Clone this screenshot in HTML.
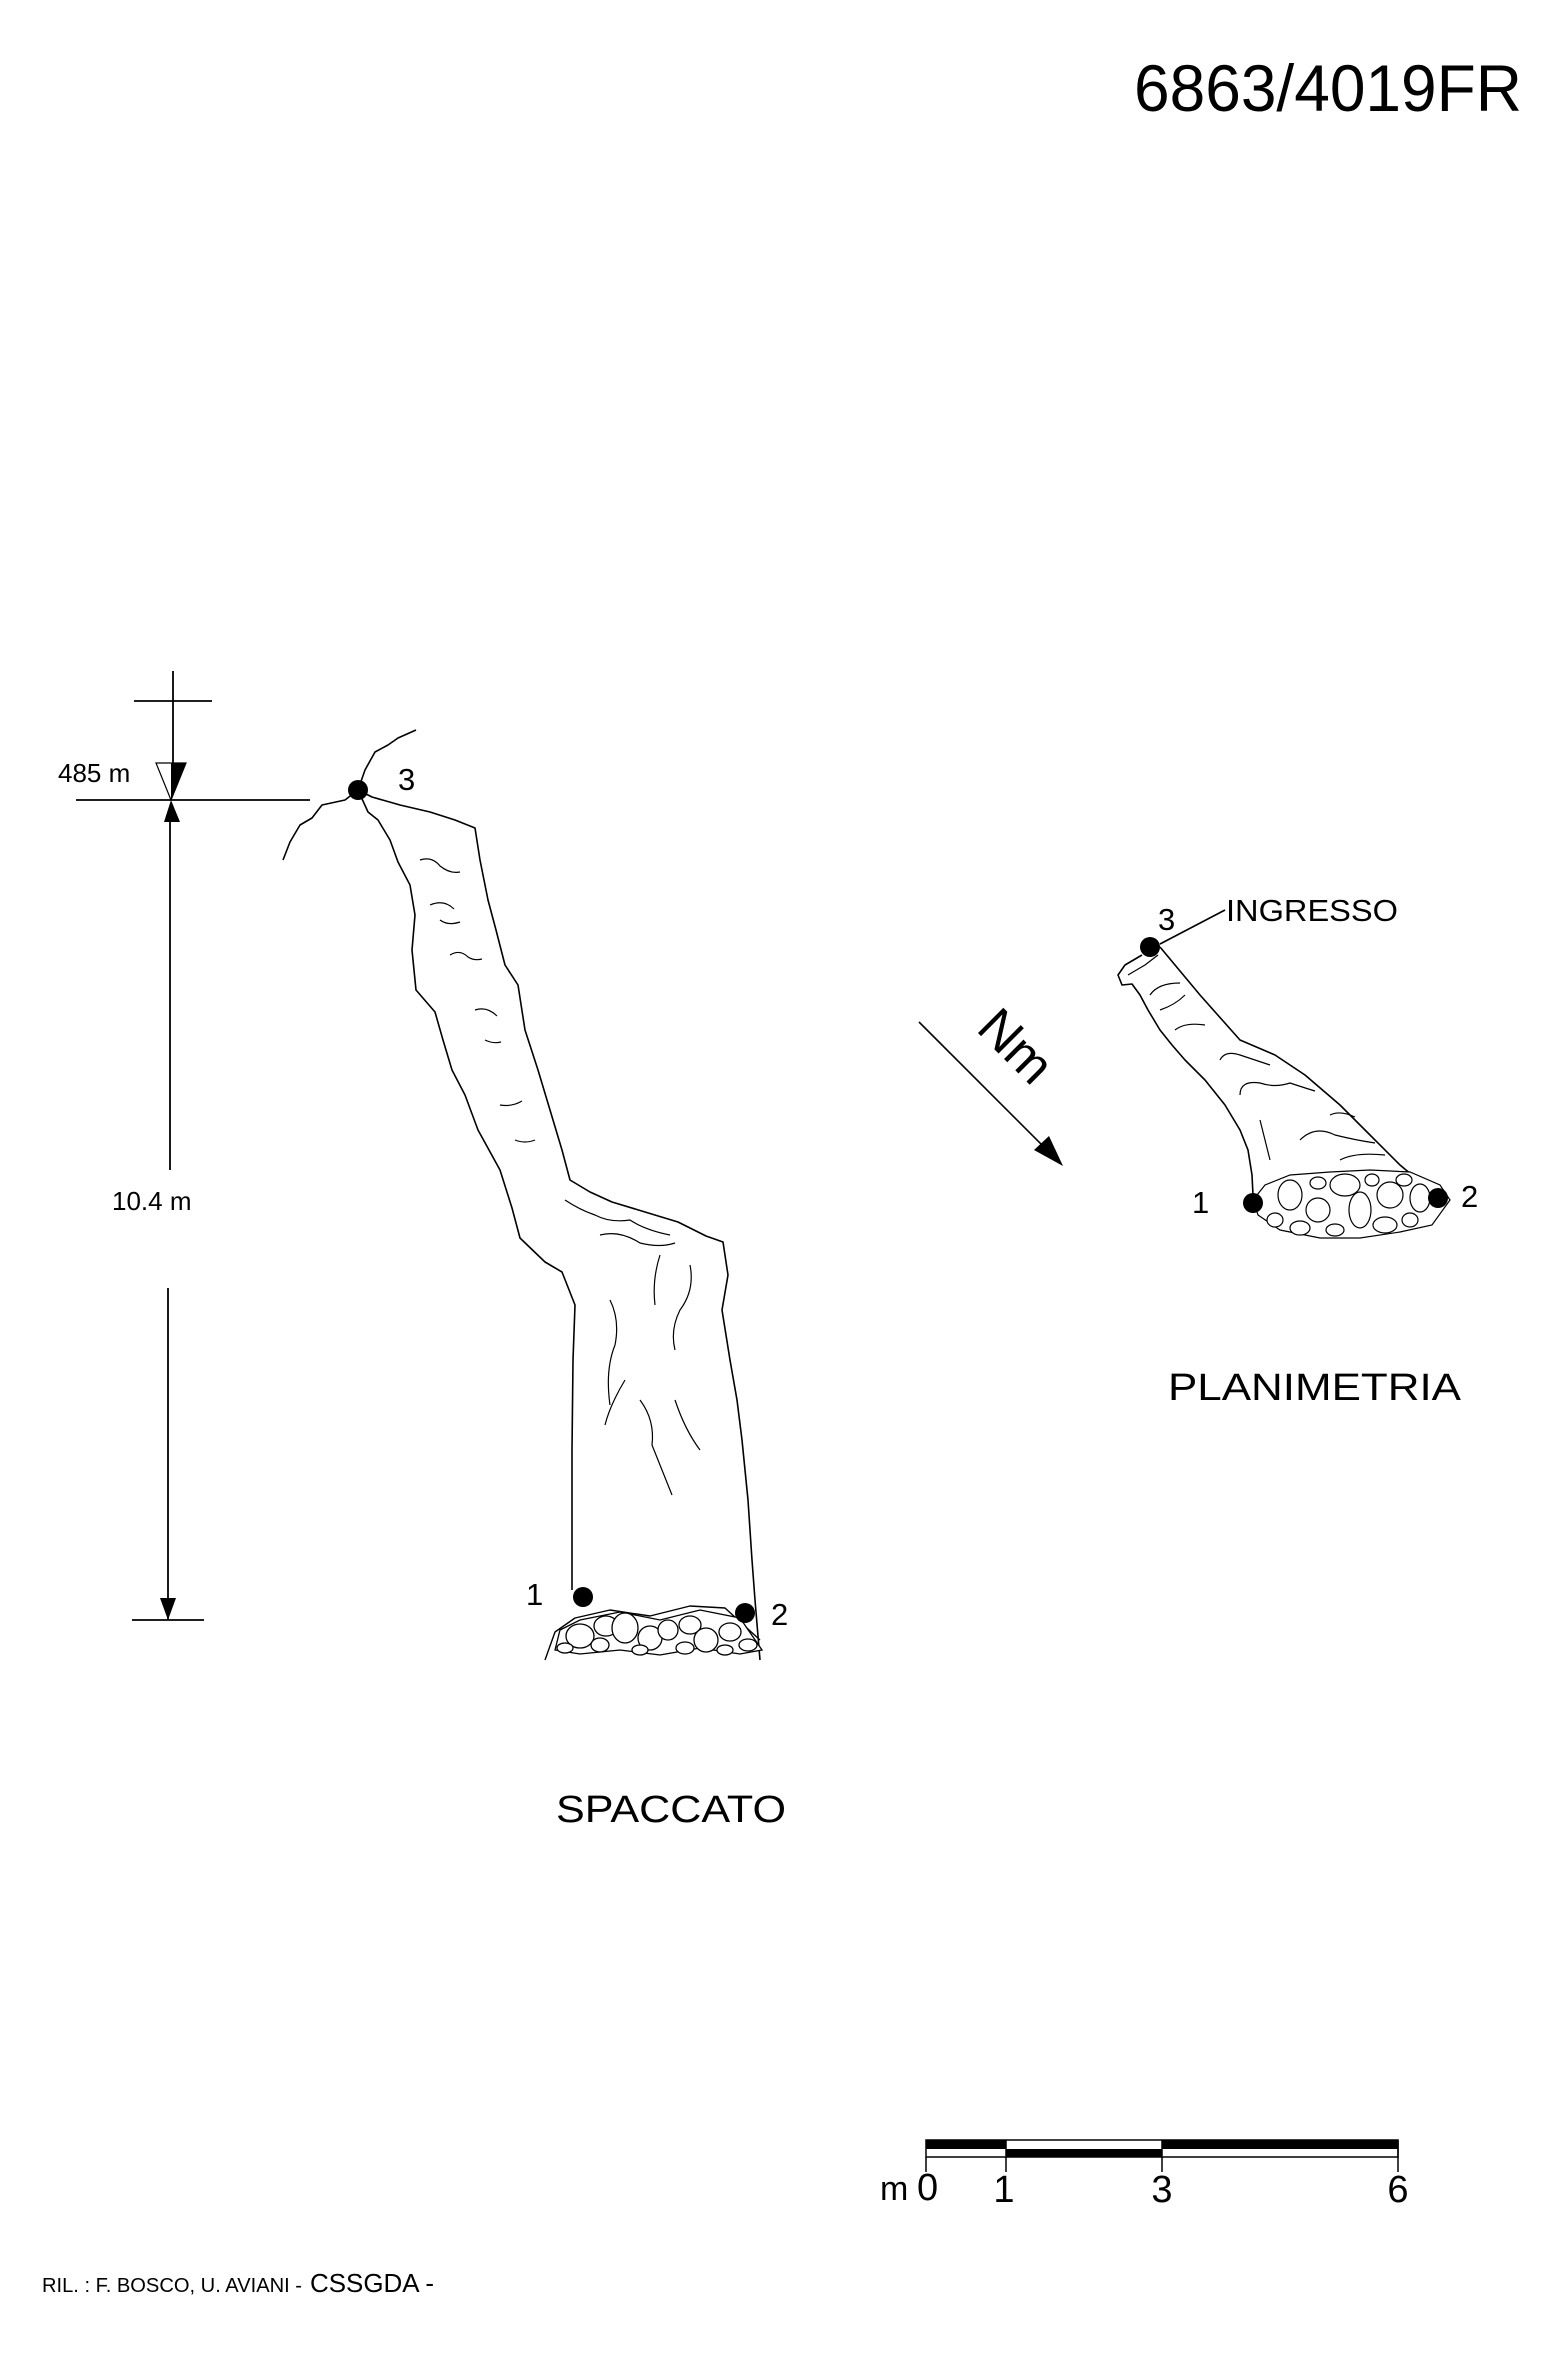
<!DOCTYPE html>
<html><head><meta charset="utf-8"><style>html,body{margin:0;padding:0;background:#fff}svg{display:block}</style></head>
<body>
<svg width="1567" height="2354" viewBox="0 0 1567 2354" xmlns="http://www.w3.org/2000/svg" font-family="Liberation Sans, sans-serif">
<rect width="1567" height="2354" fill="#fff"/>
<text x="1134" y="111" font-size="66" textLength="388" lengthAdjust="spacingAndGlyphs">6863/4019FR</text>

<!-- elevation dimension -->
<g stroke="#000" stroke-width="1.8" fill="none">
<line x1="173" y1="671" x2="173" y2="763"/>
<line x1="134" y1="701" x2="212" y2="701"/>
<line x1="76" y1="800" x2="310" y2="800"/>
<line x1="170" y1="820" x2="170" y2="1170"/>
<line x1="168" y1="1288" x2="168" y2="1620"/>
<line x1="132" y1="1620" x2="204" y2="1620"/>
<polygon points="156,763 186,763 171,800" stroke-width="1.2"/>
</g>
<polygon points="171,763 186,763 171,800" fill="#000"/>
<polygon points="171,800 164,822 180,822" fill="#000"/>
<polygon points="168,1620 160,1598 176,1598" fill="#000"/>
<text x="58" y="782" font-size="26">485 m</text>
<text x="112" y="1210" font-size="26">10.4 m</text>

<!-- section cave -->
<g stroke="#000" stroke-width="1.6" fill="none" stroke-linejoin="round">
<path d="M416,730 L398,738 L388,745 L375,752 L365,770 L358,790 L345,800 L322,805 L312,818 L300,825 L290,842 L283,860"/>
<path d="M358,790 L368,812 L378,820 L390,840 L398,862 L410,885 L415,915 L412,950 L416,990 L435,1012 L443,1040 L452,1070 L465,1095 L478,1130 L500,1170 L512,1208 L520,1238 L545,1262 L562,1272 L575,1305 L573,1360 L572,1450 L572,1590"/>
<path d="M358,790 L372,797 L400,805 L430,812 L455,820 L475,828 L480,860 L488,900 L496,930 L505,965 L518,985 L525,1030 L538,1070 L550,1110 L562,1150 L570,1180 L590,1192 L612,1202 L645,1212 L678,1222 L706,1236 L723,1242 L728,1275 L722,1310 L730,1360 L737,1400 L742,1440 L748,1500 L752,1560 L755,1600 L760,1660"/>
<path d="M420,860 q12,-4 20,6 q10,8 20,6" stroke-width="1.2"/>
<path d="M430,905 q14,-6 24,4 M440,920 q8,6 20,2" stroke-width="1.2"/>
<path d="M450,955 q10,-6 18,2 q6,4 14,2" stroke-width="1.2"/>
<path d="M475,1010 q12,-4 22,6 M485,1040 q8,4 16,2" stroke-width="1.2"/>
<path d="M500,1105 q12,2 22,-4 M515,1140 q10,4 20,0" stroke-width="1.2"/>
<path d="M565,1200 q15,10 30,15 q15,8 35,5 q15,10 40,15" stroke-width="1.2"/>
<path d="M600,1235 q20,-5 40,8 q20,5 35,0" stroke-width="1.2"/>
<path d="M660,1255 q-8,25 -5,50 M690,1265 q5,25 -10,45 q-10,20 -5,40" stroke-width="1.2"/>
<path d="M610,1300 q10,20 5,45 q-10,25 -5,60 M625,1380 q-15,25 -20,45" stroke-width="1.2"/>
<path d="M640,1400 q15,20 12,45 q10,25 20,50 M675,1400 q10,30 25,50" stroke-width="1.2"/>
<path d="M545,1660 L555,1632 L575,1618 L610,1610 L650,1616 L690,1606 L725,1608 L760,1640" stroke-width="1.4"/>
</g>
<g stroke="#000" stroke-width="1.3" fill="#fff">
<path d="M555,1650 L560,1630 L580,1620 L620,1612 L660,1620 L700,1610 L740,1618 L762,1650 L740,1654 L700,1648 L660,1655 L620,1650 L580,1654 Z"/>
<ellipse cx="580" cy="1636" rx="14" ry="12"/><ellipse cx="606" cy="1626" rx="12" ry="10"/><ellipse cx="625" cy="1628" rx="13" ry="15"/>
<ellipse cx="600" cy="1645" rx="9" ry="7"/><ellipse cx="650" cy="1638" rx="12" ry="12"/><ellipse cx="668" cy="1630" rx="10" ry="10"/>
<ellipse cx="690" cy="1625" rx="11" ry="9"/><ellipse cx="706" cy="1640" rx="12" ry="12"/><ellipse cx="730" cy="1632" rx="11" ry="9"/>
<ellipse cx="748" cy="1645" rx="9" ry="6"/><ellipse cx="640" cy="1650" rx="8" ry="5"/><ellipse cx="565" cy="1648" rx="8" ry="5"/>
<ellipse cx="685" cy="1648" rx="9" ry="6"/><ellipse cx="725" cy="1650" rx="8" ry="5"/>
</g>
<circle cx="358" cy="790" r="10"/>
<circle cx="583" cy="1597" r="10"/>
<circle cx="745" cy="1613" r="10"/>
<text x="398" y="790" font-size="31">3</text>
<text x="526" y="1605" font-size="31">1</text>
<text x="771" y="1625" font-size="31">2</text>
<text x="556" y="1822" font-size="38" textLength="230" lengthAdjust="spacingAndGlyphs">SPACCATO</text>

<!-- north arrow -->
<line x1="919" y1="1022" x2="1052" y2="1155" stroke="#000" stroke-width="1.6"/>
<polygon points="1063,1166 1034,1150 1049,1136" fill="#000"/>
<text x="0" y="0" font-size="52" transform="translate(975,1030) rotate(45)">Nm</text>

<!-- plan cave -->
<g stroke="#000" stroke-width="1.6" fill="none" stroke-linejoin="round">
<line x1="1160" y1="944" x2="1225" y2="910"/>
<path d="M1142,955 L1125,965 L1118,975 L1122,985 L1132,984 L1140,995 L1148,1010 L1160,1030 L1172,1045 L1185,1060 L1205,1080 L1225,1105 L1240,1130 L1248,1150 L1252,1175 L1253,1195"/>
<path d="M1160,947 L1200,995 L1240,1040 L1275,1055 L1305,1075 L1340,1105 L1370,1135 L1400,1165 L1430,1190"/>
<path d="M1128,975 L1145,965 L1158,955" stroke-width="1.2"/>
<path d="M1150,995 q8,-12 30,-12 M1160,1010 q15,-5 25,-15 M1175,1030 q10,-8 30,-5" stroke-width="1.2"/>
<path d="M1220,1060 q5,-10 20,-5 q15,5 30,10 M1240,1095 q0,-15 20,-12 q15,5 30,0 q15,5 25,8" stroke-width="1.2"/>
<path d="M1260,1120 q5,20 10,40 M1300,1140 q15,-15 35,-5 q20,5 40,8 M1330,1115 q10,-5 25,2 M1340,1160 q15,-8 45,-5" stroke-width="1.2"/>
</g>
<g stroke="#000" stroke-width="1.2" fill="#fff">
<path d="M1253,1200 L1265,1185 L1290,1175 L1330,1172 L1370,1170 L1410,1172 L1440,1185 L1450,1200 L1432,1225 L1400,1232 L1360,1238 L1320,1238 L1280,1230 L1258,1215 Z"/>
<ellipse cx="1290" cy="1195" rx="12" ry="15"/><ellipse cx="1318" cy="1210" rx="12" ry="12"/><ellipse cx="1345" cy="1185" rx="15" ry="11"/>
<ellipse cx="1360" cy="1210" rx="11" ry="18"/><ellipse cx="1390" cy="1195" rx="13" ry="13"/><ellipse cx="1420" cy="1198" rx="10" ry="14"/>
<ellipse cx="1275" cy="1220" rx="8" ry="7"/><ellipse cx="1300" cy="1228" rx="10" ry="7"/><ellipse cx="1335" cy="1230" rx="9" ry="6"/>
<ellipse cx="1385" cy="1225" rx="12" ry="8"/><ellipse cx="1410" cy="1220" rx="8" ry="7"/><ellipse cx="1318" cy="1183" rx="8" ry="6"/>
<ellipse cx="1372" cy="1180" rx="7" ry="6"/><ellipse cx="1404" cy="1180" rx="8" ry="6"/>
</g>
<circle cx="1150" cy="947" r="10"/>
<circle cx="1253" cy="1203" r="10"/>
<circle cx="1438" cy="1198" r="10"/>
<text x="1158" y="930" font-size="31">3</text>
<text x="1226" y="921" font-size="31" textLength="172" lengthAdjust="spacingAndGlyphs">INGRESSO</text>
<text x="1192" y="1213" font-size="31">1</text>
<text x="1461" y="1207" font-size="31">2</text>
<text x="1168" y="1400" font-size="38" textLength="293" lengthAdjust="spacingAndGlyphs">PLANIMETRIA</text>

<!-- scale bar -->
<g stroke="#000" stroke-width="1.5" fill="none">
<rect x="926" y="2140" width="472" height="17"/>
<line x1="926" y1="2157" x2="926" y2="2172"/>
<line x1="1006" y1="2140" x2="1006" y2="2172"/>
<line x1="1162" y1="2140" x2="1162" y2="2172"/>
<line x1="1398" y1="2140" x2="1398" y2="2172"/>
</g>
<rect x="926" y="2140" width="80" height="9"/>
<rect x="1006" y="2149" width="156" height="8"/>
<rect x="1162" y="2140" width="236" height="9"/>
<text x="880" y="2200" font-size="34">m</text>
<text x="917" y="2200" font-size="38">0</text>
<text x="1004" y="2202" font-size="38" text-anchor="middle">1</text>
<text x="1162" y="2202" font-size="38" text-anchor="middle">3</text>
<text x="1398" y="2202" font-size="38" text-anchor="middle">6</text>

<text x="42" y="2292" font-size="20" textLength="260" lengthAdjust="spacingAndGlyphs">RIL. : F. BOSCO, U. AVIANI -</text>
<text x="310" y="2292" font-size="26" textLength="124" lengthAdjust="spacingAndGlyphs">CSSGDA -</text>
</svg>
</body></html>
